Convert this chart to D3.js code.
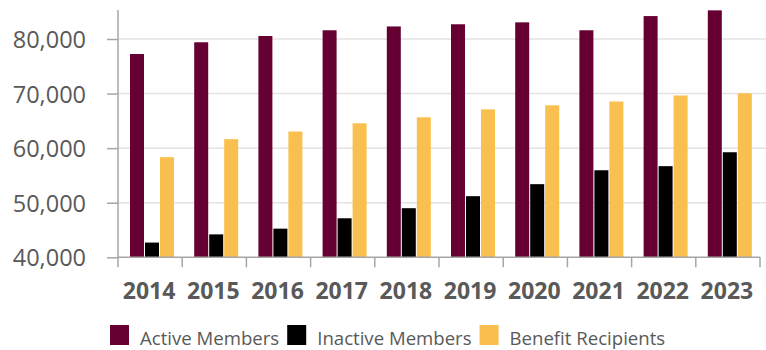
<!DOCTYPE html>
<html><head><meta charset="utf-8">
<script src="https://cdn.jsdelivr.net/npm/d3@7"></script>
<style>body{margin:0;background:#fff}svg{display:block}</style>
</head><body>
<svg id="c" width="766" height="350"></svg>
<script>
const years = ["2014","2015","2016","2017","2018","2019","2020","2021","2022","2023"];
const seriesNames = ["Active Members","Inactive Members","Benefit Recipients"];
const activeMembers = [77250,79400,80550,81600,82300,82700,83050,81600,84200,85250];
const inactiveMembers = [42700,44200,45250,47150,49000,51200,53400,55950,56700,59250];
const benefitRecipients = [58350,61650,63050,64550,65650,67100,67850,68550,69650,70050];
const yTicks = [40000,50000,60000,70000,80000];
const colors = ["#660033","#000000","#F9BF4F"];

const seriesValues = [activeMembers, inactiveMembers, benefitRecipients];
const svg = d3.select("#c");
const textColor = "#595959";
const axisColor = "#a6a6a6";
const gridColor = "#e3e3e3";
const fontFam = "'Open Sans', sans-serif";

const x = d3.scaleBand().domain(years).range([118, 760]).padding(0);
const sub = d3.scaleBand().domain(seriesNames).range([12, 57]).padding(0);
const y = d3.scaleLinear().domain([40000, 80000]).range([257.3, 39]);
const topY = 10;

// gridlines
svg.append("g").selectAll("line").data(yTicks.filter(d => d !== 40000)).join("line")
  .attr("x1", 118).attr("x2", 766)
  .attr("y1", d => y(d)).attr("y2", d => y(d))
  .attr("stroke", gridColor).attr("stroke-width", 1.5);

// bars
const groups = svg.append("g").selectAll("g").data(years).join("g")
  .attr("transform", d => `translate(${x(d)},0)`);
groups.selectAll("rect").data((d, i) => seriesNames.map((s, k) => ({s, k, v: seriesValues[k][i]}))).join("rect")
  .attr("x", d => sub(d.s))
  .attr("width", sub.bandwidth() - 1)
  .attr("y", d => y(d.v))
  .attr("height", d => y(40000) - y(d.v))
  .attr("fill", d => colors[d.k]);

// y axis
const yAxis = d3.axisLeft(y).tickValues(yTicks).tickSize(11).tickSizeOuter(0)
  .tickFormat(d3.format(",")).tickPadding(21);
const gy = svg.append("g").attr("transform", "translate(118,0)").call(yAxis);
gy.select(".domain").remove();
gy.selectAll(".tick line").attr("stroke", axisColor).attr("stroke-width", 1.5);
gy.selectAll(".tick text").attr("fill", textColor).style("font-family", fontFam)
  .style("font-size", "23.5px").attr("dy", "0.36em");
gy.append("line").attr("x1", 0).attr("x2", 0).attr("y1", topY).attr("y2", y(40000) + 10)
  .attr("stroke", axisColor).attr("stroke-width", 1.5);

// x axis
svg.append("line").attr("x1", 118).attr("x2", 760).attr("y1", y(40000)).attr("y2", y(40000))
  .attr("stroke", axisColor).attr("stroke-width", 1.5);
svg.append("g").selectAll("line").data(years).join("line")
  .attr("x1", d => x(d) + x.bandwidth()).attr("x2", d => x(d) + x.bandwidth())
  .attr("y1", y(40000)).attr("y2", y(40000) + 10)
  .attr("stroke", axisColor).attr("stroke-width", 1.5);
svg.append("g").selectAll("text").data(years).join("text")
  .attr("x", d => x(d) + x.bandwidth() / 2 - 1)
  .attr("y", 299)
  .attr("text-anchor", "middle")
  .attr("fill", textColor)
  .style("font-family", fontFam).style("font-size", "23px").style("font-weight", "bold")
  .text(d => d);

// legend
let lx = 110;
const leg = svg.append("g");
seriesNames.forEach((s, k) => {
  leg.append("rect").attr("x", lx).attr("y", 325).attr("width", 19).attr("height", 20).attr("fill", colors[k]);
  const t = leg.append("text").attr("x", lx + 30).attr("y", 344.5)
    .attr("fill", textColor).style("font-family", fontFam).style("font-size", "18.6px").text(s);
  const w = t.node().getComputedTextLength();
  lx = lx + 30 + w + 8;
});
</script>
</body></html>
